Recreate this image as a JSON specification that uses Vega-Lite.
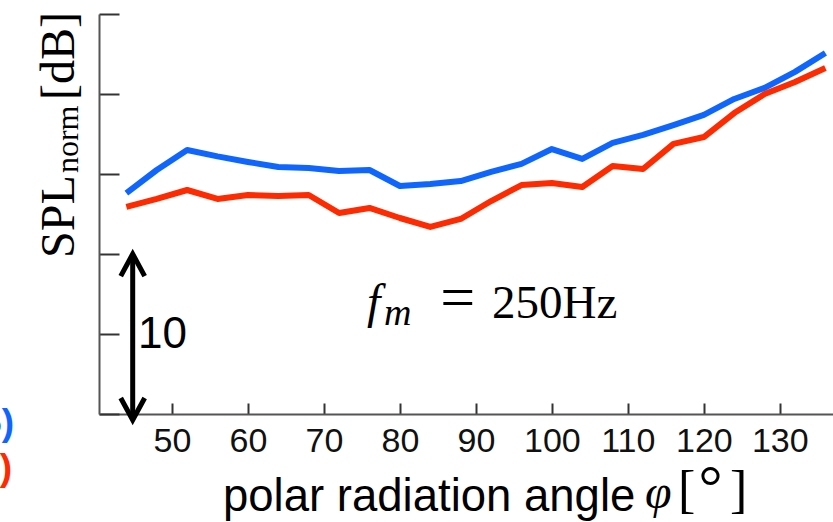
{
  "$schema": "https://vega.github.io/schema/vega-lite/v6.json",
  "width": 734,
  "height": 400,
  "autosize": {"type": "none"},
  "padding": {"left": 99, "top": 14, "right": 0, "bottom": 108},
  "background": "white",
  "config": {"view": {"stroke": null}, "axis": {"grid": false}},
  "datasets": {
    "curves": [
      {"series": "series 1", "angle": 44, "spl": 13.81},
      {"series": "series 1", "angle": 48, "spl": 15.25},
      {"series": "series 1", "angle": 52, "spl": 16.5},
      {"series": "series 1", "angle": 56, "spl": 16.1},
      {"series": "series 1", "angle": 60, "spl": 15.75},
      {"series": "series 1", "angle": 64, "spl": 15.44},
      {"series": "series 1", "angle": 68, "spl": 15.38},
      {"series": "series 1", "angle": 72, "spl": 15.19},
      {"series": "series 1", "angle": 76, "spl": 15.25},
      {"series": "series 1", "angle": 80, "spl": 14.25},
      {"series": "series 1", "angle": 84, "spl": 14.38},
      {"series": "series 1", "angle": 88, "spl": 14.56},
      {"series": "series 1", "angle": 92, "spl": 15.13},
      {"series": "series 1", "angle": 96, "spl": 15.63},
      {"series": "series 1", "angle": 100, "spl": 16.56},
      {"series": "series 1", "angle": 104, "spl": 15.94},
      {"series": "series 1", "angle": 108, "spl": 16.94},
      {"series": "series 1", "angle": 112, "spl": 17.44},
      {"series": "series 1", "angle": 116, "spl": 18.06},
      {"series": "series 1", "angle": 120, "spl": 18.69},
      {"series": "series 1", "angle": 124, "spl": 19.69},
      {"series": "series 1", "angle": 128, "spl": 20.38},
      {"series": "series 1", "angle": 132, "spl": 21.38},
      {"series": "series 1", "angle": 136, "spl": 22.56},
      {"series": "series 2", "angle": 44, "spl": 12.94},
      {"series": "series 2", "angle": 48, "spl": 13.44},
      {"series": "series 2", "angle": 52, "spl": 14.0},
      {"series": "series 2", "angle": 56, "spl": 13.44},
      {"series": "series 2", "angle": 60, "spl": 13.69},
      {"series": "series 2", "angle": 64, "spl": 13.63},
      {"series": "series 2", "angle": 68, "spl": 13.69},
      {"series": "series 2", "angle": 72, "spl": 12.56},
      {"series": "series 2", "angle": 76, "spl": 12.88},
      {"series": "series 2", "angle": 80, "spl": 12.25},
      {"series": "series 2", "angle": 84, "spl": 11.69},
      {"series": "series 2", "angle": 88, "spl": 12.19},
      {"series": "series 2", "angle": 92, "spl": 13.31},
      {"series": "series 2", "angle": 96, "spl": 14.31},
      {"series": "series 2", "angle": 100, "spl": 14.44},
      {"series": "series 2", "angle": 104, "spl": 14.19},
      {"series": "series 2", "angle": 108, "spl": 15.5},
      {"series": "series 2", "angle": 112, "spl": 15.31},
      {"series": "series 2", "angle": 116, "spl": 16.88},
      {"series": "series 2", "angle": 120, "spl": 17.31},
      {"series": "series 2", "angle": 124, "spl": 18.81},
      {"series": "series 2", "angle": 128, "spl": 20.0},
      {"series": "series 2", "angle": 132, "spl": 20.75},
      {"series": "series 2", "angle": 136, "spl": 21.63}
    ],
    "arrow": [
      {"part": "shaft", "i": 0, "angle": 44.835, "spl": -0.3},
      {"part": "shaft", "i": 1, "angle": 44.835, "spl": 9.9},
      {"part": "top", "i": 0, "angle": 43.26, "spl": 8.62},
      {"part": "top", "i": 1, "angle": 44.835, "spl": 10.0},
      {"part": "top", "i": 2, "angle": 46.41, "spl": 8.62},
      {"part": "bottom", "i": 0, "angle": 43.26, "spl": 1.0},
      {"part": "bottom", "i": 1, "angle": 44.835, "spl": -0.375},
      {"part": "bottom", "i": 2, "angle": 46.41, "spl": 1.0}
    ]
  },
  "encoding": {
    "x": {
      "field": "angle", "type": "quantitative",
      "scale": {"domain": [40.4, 137], "nice": false, "zero": false},
      "axis": {
        "values": [50, 60, 70, 80, 90, 100, 110, 120, 130],
        "title": null,
        "tickSize": -11, "tickWidth": 2, "tickColor": "#333",
        "domainColor": "#555", "domainWidth": 2,
        "labelFont": "Liberation Sans", "labelFontSize": 34, "labelColor": "#111",
        "labelPadding": 21, "labelFlush": false
      }
    },
    "y": {
      "field": "spl", "type": "quantitative",
      "scale": {"domain": [0, 25], "nice": false, "zero": false},
      "axis": {
        "values": [0, 5, 10, 15, 20, 25],
        "title": null, "labels": false,
        "tickSize": -20, "tickWidth": 2, "tickColor": "#333",
        "domainColor": "#555", "domainWidth": 2
      }
    }
  },
  "layer": [
    {
      "data": {"name": "curves"},
      "mark": {"type": "line", "strokeWidth": 6, "strokeJoin": "round", "strokeCap": "butt"},
      "encoding": {
        "color": {
          "field": "series", "type": "nominal",
          "scale": {"domain": ["series 1", "series 2"], "range": ["#0f66ff", "#ff2a00"]},
          "legend": null
        }
      }
    },
    {
      "data": {"name": "arrow"},
      "mark": {"type": "line", "strokeWidth": 5, "color": "#000", "strokeJoin": "miter", "strokeCap": "butt"},
      "encoding": {
        "detail": {"field": "part"},
        "order": {"field": "i", "type": "quantitative"}
      }
    },
    {
      "data": {"values": [{"angle": 45.53, "spl": 4.125, "t": "10"}]},
      "mark": {"type": "text", "font": "Liberation Sans", "fontSize": 44, "align": "left", "baseline": "alphabetic", "color": "#000"},
      "encoding": {"text": {"field": "t"}}
    },
    {
      "data": {"values": [{"angle": 37.11, "spl": 9.75, "t": "SPL"}, {"angle": 37.11, "spl": 19.63, "t": "[dB]"}]},
      "mark": {"type": "text", "font": "Liberation Serif", "fontSize": 48, "angle": 270, "align": "left", "baseline": "alphabetic", "color": "#000"},
      "encoding": {"text": {"field": "t"}}
    },
    {
      "data": {"values": [{"angle": 37.64, "spl": 15.06, "t": "norm"}]},
      "mark": {"type": "text", "font": "Liberation Serif", "fontSize": 32, "angle": 270, "align": "left", "baseline": "alphabetic", "color": "#000"},
      "encoding": {"text": {"field": "t"}}
    },
    {
      "data": {"values": [{"angle": 75.67, "spl": 6.0, "t": "f"}]},
      "mark": {"type": "text", "font": "Liberation Serif", "fontStyle": "italic", "fontSize": 48, "align": "left", "baseline": "alphabetic", "color": "#000"},
      "encoding": {"text": {"field": "t"}}
    },
    {
      "data": {"values": [{"angle": 112.26, "spl": -5.875, "t": "φ"}]},
      "mark": {"type": "text", "font": "Liberation Serif", "fontStyle": "italic", "fontSize": 48, "align": "left", "baseline": "alphabetic", "color": "#000"},
      "encoding": {"text": {"field": "t"}}
    },
    {
      "data": {"values": [{"angle": 77.9, "spl": 5.5625, "t": "m"}]},
      "mark": {"type": "text", "font": "Liberation Serif", "fontStyle": "italic", "fontSize": 38, "align": "left", "baseline": "alphabetic", "color": "#000"},
      "encoding": {"text": {"field": "t"}}
    },
    {
      "data": {"values": [{"angle": 85.3, "spl": 6.0, "t": "="}]},
      "mark": {"type": "text", "font": "Liberation Serif", "fontSize": 62, "align": "left", "baseline": "alphabetic", "color": "#000"},
      "encoding": {"text": {"field": "t"}}
    },
    {
      "data": {"values": [{"angle": 92.12, "spl": 6.0, "t": "250Hz"}]},
      "mark": {"type": "text", "font": "Liberation Serif", "fontSize": 47, "align": "left", "baseline": "alphabetic", "color": "#000"},
      "encoding": {"text": {"field": "t"}}
    },
    {
      "data": {"values": [
        {"angle": 116.6, "spl": -5.8125, "t": "["},
        {"angle": 123.45, "spl": -5.8125, "t": "]"}
      ]},
      "mark": {"type": "text", "font": "Liberation Serif", "fontSize": 52, "align": "left", "baseline": "alphabetic", "color": "#000"},
      "encoding": {"text": {"field": "t"}}
    },
    {
      "data": {"values": [{"angle": 119.3, "spl": -5.8125, "t": "°"}]},
      "mark": {"type": "text", "font": "Liberation Serif", "fontSize": 60, "align": "left", "baseline": "alphabetic", "color": "#000"},
      "encoding": {"text": {"field": "t"}}
    },
    {
      "data": {"values": [{"angle": 56.72, "spl": -6.0625, "t": "polar radiation angle"}]},
      "mark": {"type": "text", "font": "Liberation Sans", "fontSize": 45.5, "align": "left", "baseline": "alphabetic", "color": "#000"},
      "encoding": {"text": {"field": "t"}}
    },
    {
      "data": {"values": [
        {"series": "series 1", "angle": 29.21, "spl": -1.3125, "t": "5)"},
        {"series": "series 2", "angle": 28.95, "spl": -4.125, "t": ")"}
      ]},
      "mark": {"type": "text", "font": "Liberation Sans", "fontWeight": "bold", "fontSize": 37, "align": "right", "baseline": "alphabetic"},
      "encoding": {
        "text": {"field": "t"},
        "color": {"field": "series", "type": "nominal", "scale": {"domain": ["series 1", "series 2"], "range": ["#0f66ff", "#ff2a00"]}, "legend": null}
      }
    }
  ]
}
